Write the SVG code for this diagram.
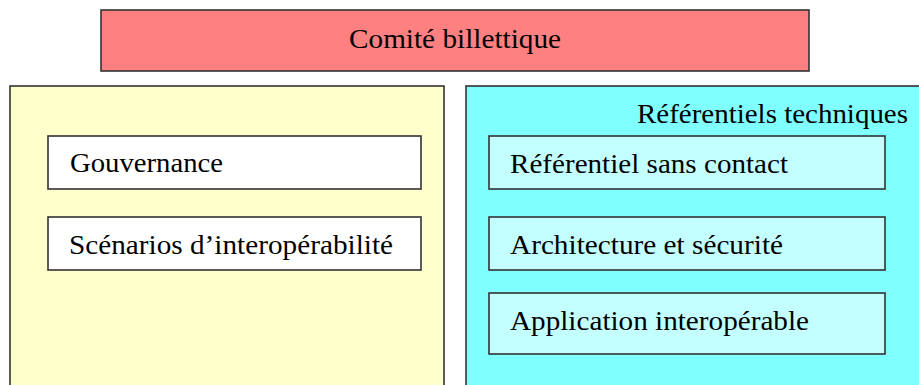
<svg xmlns="http://www.w3.org/2000/svg" width="919" height="385" viewBox="0 0 919 385">
  <style>
    .box { stroke: #333333; stroke-width: 1.6; }
    .top { fill: #ff8080; }
    .yellow { fill: #ffffcc; }
    .cyan { fill: #80ffff; }
    .item { fill: #ffffff; }
    .citem { fill: #c4ffff; }
    text { font-family: "Liberation Serif", "Times New Roman", serif; font-size: 28px; fill: #000000; }
  </style>
  <rect width="919" height="385" fill="#ffffff"/>

  <g id="comite">
    <rect class="box top" x="101" y="10" width="708" height="61"/>
    <text x="349" y="48" textLength="212" lengthAdjust="spacingAndGlyphs">Comité billettique</text>
  </g>

  <g id="gouvernance-groupe">
    <rect class="box yellow" x="10" y="86" width="434" height="310"/>
    <g id="gouvernance">
      <rect class="box item" x="48" y="136" width="373" height="53"/>
      <text x="70" y="172" textLength="153" lengthAdjust="spacingAndGlyphs">Gouvernance</text>
    </g>
    <g id="scenarios">
      <rect class="box item" x="48" y="217" width="373" height="53"/>
      <text x="69" y="254" textLength="324" lengthAdjust="spacingAndGlyphs">Scénarios d’interopérabilité</text>
    </g>
  </g>

  <g id="referentiels">
    <rect class="box cyan" x="466" y="86" width="470" height="310"/>
    <text x="637" y="123" textLength="271" lengthAdjust="spacingAndGlyphs">Référentiels techniques</text>
    <g id="sans-contact">
      <rect class="box citem" x="489" y="136" width="396" height="53"/>
      <text x="510" y="173" textLength="278" lengthAdjust="spacingAndGlyphs">Référentiel sans contact</text>
    </g>
    <g id="architecture">
      <rect class="box citem" x="489" y="217" width="396" height="53"/>
      <text x="510" y="254" textLength="273" lengthAdjust="spacingAndGlyphs">Architecture et sécurité</text>
    </g>
    <g id="application">
      <rect class="box citem" x="489" y="293" width="396" height="61"/>
      <text x="510" y="330" textLength="299" lengthAdjust="spacingAndGlyphs">Application interopérable</text>
    </g>
  </g>

  <g id="connecteurs"/>
</svg>
